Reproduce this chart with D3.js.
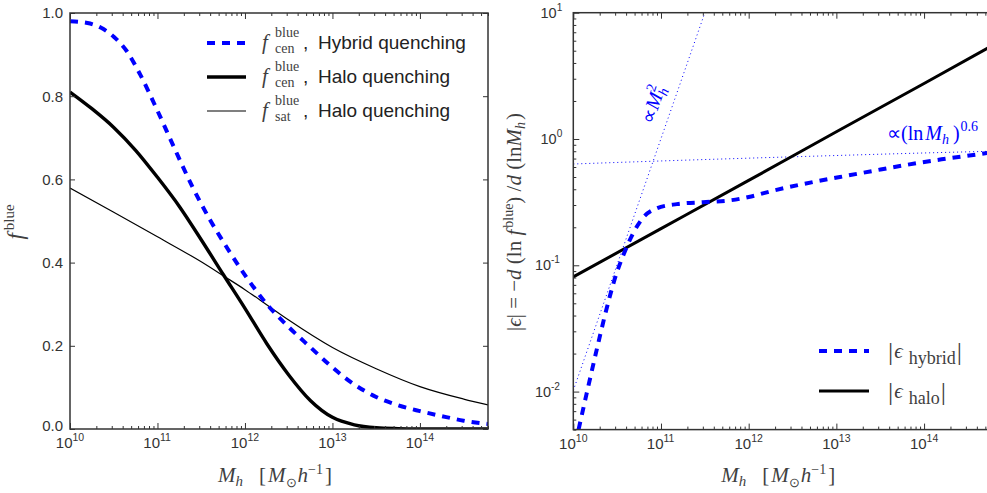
<!DOCTYPE html>
<html><head><meta charset="utf-8">
<script src="https://cdn.jsdelivr.net/npm/d3@7"></script>
<style>
body{margin:0;background:#fff;}
svg{display:block;}
</style></head><body>
<svg id="chart" width="987" height="493"></svg>
<script>
// ---------------- data ----------------
const massDomain = [1e10, 6e14];
const fTicks = [0, 0.2, 0.4, 0.6, 0.8, 1.0];
const massDecades = [10, 11, 12, 13, 14];
const epsDomain = [0.005, 10];
const epsDecades = [-2, -1, 0, 1];

// blue fraction of centrals, hybrid quenching
const logMassHybrid = [10.0,10.2,10.35,10.5,10.65,10.8,11.0,11.2,11.4,11.6,11.8,12.0,12.25,12.5,12.75,13.0,13.25,13.5,13.75,14.0,14.25,14.5,14.78];
const fCenHybrid    = [0.98,0.976,0.965,0.943,0.908,0.853,0.765,0.672,0.582,0.503,0.434,0.37,0.30,0.245,0.196,0.148,0.107,0.077,0.057,0.043,0.031,0.02,0.012];

// blue fraction of centrals, halo quenching
const logMassHaloCen = [10.0,10.25,10.5,10.75,11.0,11.25,11.5,11.75,12.0,12.25,12.5,12.75,13.0,13.25,13.5,13.75,14.0,14.5,14.78];
const fCenHalo       = [0.81,0.77,0.725,0.67,0.605,0.535,0.455,0.372,0.29,0.205,0.13,0.068,0.028,0.01,0.003,0.001,0.0003,0,0];

// blue fraction of satellites, halo quenching
const logMassHaloSat = [10.0,10.5,11.0,11.5,11.77,12.0,12.26,12.5,13.0,13.5,14.0,14.5,14.78];
const fSatHalo       = [0.579,0.521,0.462,0.402,0.366,0.335,0.297,0.262,0.196,0.145,0.102,0.072,0.058];

// logarithmic slopes |eps|
const logMassEpsHybrid = [10.06,10.15,10.27,10.36,10.49,10.57,10.68,10.8,10.95,11.18,11.48,11.79,12.0,12.28,12.6,13.04,13.4,13.8,14.2,14.64,14.78];
const epsHybrid        = [0.005,0.0095,0.0219,0.040,0.085,0.120,0.178,0.24,0.282,0.305,0.316,0.327,0.347,0.39,0.437,0.50,0.556,0.624,0.69,0.76,0.785];

const logMassEpsHalo = [10, 11, 12, 13, 14, 14.78];
const epsHalo        = [0.081, 0.195, 0.47, 1.14, 2.75, 5.5];

// reference scalings
const logMassSquare = [10, 11.5];
const epsSquare     = [0.0102, 10];
const logMassLnPow  = [10, 11, 12, 13, 14, 14.78];
const epsLnPow      = [0.634, 0.67, 0.705, 0.74, 0.775, 0.80];

// ---------------- layout ----------------
const svg = d3.select("#chart");
const AXIS = "#333";
const MATH = "#3f3f3f";
const SERIF = "'Liberation Serif','Times New Roman',serif";
const SANS = "'Liberation Sans',Arial,Helvetica,sans-serif";
const BLUE = "#0000ff";
const EPS = "\u03F5";

const PL = {x0: 70, x1: 488, y0: 13, y1: 429};
const PR = {x0: 573.3, x1: 992.3, y0: 12.7, y1: 429.6};

const xL = d3.scaleLog().domain(massDomain).range([PL.x0, PL.x1]);
const yL = d3.scaleLinear().domain([0, 1]).range([PL.y1, PL.y0]);
const xR = d3.scaleLog().domain(massDomain).range([PR.x0, PR.x1]);
const yR = d3.scaleLog().domain(epsDomain).range([PR.y1, PR.y0]);

const toPts = (lm, v) => lm.map((m, i) => [Math.pow(10, m), v[i]]);

function logTicks(domain, decades) {
  const major = [], minor = [];
  decades.forEach(k => {
    for (let j = 1; j <= 9; j++) {
      const v = j * Math.pow(10, k);
      if (v < domain[0] * 0.999 || v > domain[1] * 1.001) continue;
      (j === 1 ? major : minor).push(v);
    }
  });
  return {major, minor};
}

function styleAxis(g) {
  g.select(".domain").remove();
  g.selectAll(".tick line").attr("stroke", AXIS).attr("stroke-width", 1);
}

// "10" with a raised exponent; base and exponent are separate text runs
function powerLabel(x, y, exp, anchor, size) {
  const baseW = size * 1.112, expSize = size * 0.7, expW = expSize * 0.556 * String(exp).length;
  const left = anchor === "middle" ? x - (baseW + expW) / 2 : x - baseW - expW;
  svg.append("text").attr("x", left).attr("y", y).attr("font-family", SANS)
    .attr("font-size", size).attr("fill", AXIS).text("10");
  svg.append("text").attr("x", left + baseW).attr("y", y - 7).attr("font-family", SANS)
    .attr("font-size", expSize).attr("fill", AXIS).text(exp);
}

function drawLogX(P, x) {
  const t = logTicks(massDomain, massDecades);
  [[t.minor, 3], [t.major, 6]].forEach(([vals, len]) => {
    svg.append("g").attr("transform", `translate(0,${P.y1})`)
      .call(d3.axisBottom(x).tickValues(vals).tickSize(-len).tickFormat("")).call(styleAxis);
    svg.append("g").attr("transform", `translate(0,${P.y0})`)
      .call(d3.axisTop(x).tickValues(vals).tickSize(-len).tickFormat("")).call(styleAxis);
  });
  massDecades.forEach(k => powerLabel(x(Math.pow(10, k)), P.y1 + 19, k, "middle", 15));
}

function frame(P) {
  svg.append("rect").attr("x", P.x0).attr("y", P.y0)
    .attr("width", P.x1 - P.x0).attr("height", P.y1 - P.y0)
    .attr("fill", "none").attr("stroke", AXIS).attr("stroke-width", 1.5);
}

function clip(id, P) {
  svg.append("clipPath").attr("id", id).append("rect")
    .attr("x", P.x0).attr("y", P.y0).attr("width", P.x1 - P.x0).attr("height", P.y1 - P.y0);
}

// ---------------- left panel: blue fractions ----------------
clip("clipL", PL);
const lineL = d3.line().x(d => xL(d[0])).y(d => yL(d[1])).curve(d3.curveMonotoneX);
const gL = svg.append("g").attr("clip-path", "url(#clipL)");
gL.append("path").datum(toPts(logMassHaloSat, fSatHalo)).attr("d", lineL)
  .attr("fill", "none").attr("stroke", "#000").attr("stroke-width", 1.2);
gL.append("path").datum(toPts(logMassHaloCen, fCenHalo)).attr("d", lineL)
  .attr("fill", "none").attr("stroke", "#000").attr("stroke-width", 3.4);
gL.append("path").datum(toPts(logMassHybrid, fCenHybrid)).attr("d", lineL)
  .attr("fill", "none").attr("stroke", BLUE).attr("stroke-width", 4).attr("stroke-dasharray", "8,7");

svg.append("g").attr("transform", `translate(${PL.x0},0)`)
  .call(d3.axisLeft(yL).tickValues(fTicks).tickSize(-5).tickPadding(7).tickFormat(d3.format(".1f")))
  .call(styleAxis)
  .call(g => g.selectAll("text").attr("font-family", SANS).attr("font-size", 15).attr("fill", AXIS))
  .call(g => g.selectAll(".tick").filter(d => d === 0).select("text").attr("dy", "0.12em"));
svg.append("g").attr("transform", `translate(${PL.x1},0)`)
  .call(d3.axisRight(yL).tickValues(fTicks).tickSize(-5).tickFormat("")).call(styleAxis);
drawLogX(PL, xL);
frame(PL);

// legend
const legL = [
  {y: 43, dash: "8,7", color: BLUE, w: 4, sub: "cen", text: "Hybrid quenching"},
  {y: 77, dash: null, color: "#000", w: 3.4, sub: "cen", text: "Halo quenching"},
  {y: 111, dash: null, color: "#000", w: 1.2, sub: "sat", text: "Halo quenching"}
];
legL.forEach(d => {
  const l = svg.append("line").attr("x1", 207).attr("x2", 246).attr("y1", d.y).attr("y2", d.y)
    .attr("stroke", d.color).attr("stroke-width", d.w);
  if (d.dash) l.attr("stroke-dasharray", d.dash);
  const b = d.y + 6;
  svg.append("text").attr("x", 262).attr("y", b).attr("font-family", SERIF).attr("font-style", "italic")
    .attr("font-size", 21).attr("fill", MATH).text("f");
  svg.append("text").attr("x", 275).attr("y", b - 12).attr("font-family", SERIF)
    .attr("font-size", 14).attr("fill", MATH).text("blue");
  svg.append("text").attr("x", 275).attr("y", b + 4).attr("font-family", SERIF)
    .attr("font-size", 14).attr("fill", MATH).text(d.sub);
  svg.append("text").attr("x", 303).attr("y", b).attr("font-family", SANS)
    .attr("font-size", 19).attr("fill", "#222").text(",");
  svg.append("text").attr("x", 318).attr("y", b).attr("font-family", SANS)
    .attr("font-size", 19).attr("fill", "#222").text(d.text);
});

// y label
{
  const t = svg.append("text").attr("transform", "translate(23,222) rotate(-90)")
    .attr("text-anchor", "middle").attr("font-family", SERIF).attr("font-size", 23).attr("fill", MATH);
  t.append("tspan").attr("font-style", "italic").text("f");
  t.append("tspan").attr("font-size", 15).attr("dx", 3).attr("dy", -9).text("blue");
}

// x labels
function massLabel(x0, y0) {
  const t = svg.append("text").attr("x", x0).attr("y", y0).attr("font-family", SERIF)
    .attr("font-size", 21).attr("fill", MATH);
  t.append("tspan").attr("font-style", "italic").text("M");
  t.append("tspan").attr("font-style", "italic").attr("font-size", 15).attr("dy", 4).text("h");
  t.append("tspan").attr("dx", 16).attr("dy", -4).text("[");
  t.append("tspan").attr("font-style", "italic").attr("dx", 2).text("M");
  t.append("tspan").attr("font-size", 13).attr("dy", 5).text("\u2299");
  t.append("tspan").attr("font-style", "italic").attr("dx", 1).attr("dy", -5).text("h");
  t.append("tspan").attr("font-size", 14).attr("dy", -8).text("\u22121");
  t.append("tspan").attr("dx", 2).attr("dy", 8).text("]");
}
massLabel(218, 482);

// ---------------- right panel: logarithmic slopes ----------------
clip("clipR", PR);
const lineR = d3.line().x(d => xR(d[0])).y(d => yR(d[1])).curve(d3.curveMonotoneX);
const gR = svg.append("g").attr("clip-path", "url(#clipR)");
gR.append("path").datum(toPts(logMassSquare, epsSquare)).attr("d", lineR)
  .attr("fill", "none").attr("stroke", BLUE).attr("stroke-width", 1).attr("stroke-dasharray", "1,3");
gR.append("path").datum(toPts(logMassLnPow, epsLnPow)).attr("d", lineR)
  .attr("fill", "none").attr("stroke", BLUE).attr("stroke-width", 1).attr("stroke-dasharray", "1,3");
gR.append("path").datum(toPts(logMassEpsHalo, epsHalo)).attr("d", lineR)
  .attr("fill", "none").attr("stroke", "#000").attr("stroke-width", 3);
gR.append("path").datum(toPts(logMassEpsHybrid, epsHybrid)).attr("d", lineR)
  .attr("fill", "none").attr("stroke", BLUE).attr("stroke-width", 4).attr("stroke-dasharray", "8,7");

{
  const t = logTicks(epsDomain, [-3, -2, -1, 0, 1]);
  [[t.minor, 3], [t.major, 6]].forEach(([vals, len]) => {
    svg.append("g").attr("transform", `translate(${PR.x0},0)`)
      .call(d3.axisLeft(yR).tickValues(vals).tickSize(-len).tickFormat("")).call(styleAxis);
  });
  epsDecades.forEach(k => powerLabel(PR.x0 - 11, yR(Math.pow(10, k)) + 5, k < 0 ? "-" + (-k) : k, "end", 14.5));
}
drawLogX(PR, xR);
frame(PR);

// annotations for the reference scalings
{
  const t = svg.append("text").attr("transform", "translate(659,107) rotate(-70.8)")
    .attr("text-anchor", "middle").attr("font-family", SERIF).attr("font-size", 20).attr("fill", BLUE);
  t.append("tspan").text("\u221D");
  t.append("tspan").attr("font-style", "italic").attr("dx", 1).text("M");
  t.append("tspan").attr("font-style", "italic").attr("font-size", 14).attr("dy", 4).text("h");
  t.append("tspan").attr("font-size", 14).attr("dx", -7).attr("dy", -13).text("2");
}
{
  const t = svg.append("text").attr("x", 887).attr("y", 140).attr("font-family", SERIF)
    .attr("font-size", 20).attr("fill", BLUE);
  t.append("tspan").text("\u221D(ln");
  t.append("tspan").attr("font-style", "italic").attr("dx", 2).text("M");
  t.append("tspan").attr("font-style", "italic").attr("font-size", 14).attr("dy", 4).text("h");
  t.append("tspan").attr("dx", 4).attr("dy", -4).text(")");
  t.append("tspan").attr("font-size", 14).attr("dx", 1).attr("dy", -9).text("0.6");
}

// legend
[
  {y: 351, dash: "8,7", color: BLUE, w: 4, sub: "hybrid"},
  {y: 391, dash: null, color: "#000", w: 3, sub: "halo"}
].forEach(d => {
  const l = svg.append("line").attr("x1", 819).attr("x2", 869).attr("y1", d.y).attr("y2", d.y)
    .attr("stroke", d.color).attr("stroke-width", d.w);
  if (d.dash) l.attr("stroke-dasharray", d.dash);
  const t = svg.append("text").attr("x", 888).attr("y", d.y + 9).attr("font-family", SERIF)
    .attr("font-size", 26).attr("fill", MATH);
  t.append("tspan").text("|");
  t.append("tspan").attr("font-style", "italic").attr("font-size", 21).attr("dx", 1).attr("dy", -2).text(EPS);
  t.append("tspan").attr("font-size", 18).attr("dx", 6).attr("dy", 6).text(d.sub);
  t.append("tspan").attr("dx", 1).attr("dy", -4).text("|");
});

// y label
{
  const t = svg.append("text").attr("transform", "translate(521,222) rotate(-90)")
    .attr("text-anchor", "middle").attr("font-family", SERIF).attr("font-size", 21).attr("fill", MATH);
  t.append("tspan").text("|");
  t.append("tspan").attr("font-style", "italic").text(EPS);
  t.append("tspan").text("| = \u2212");
  t.append("tspan").attr("font-style", "italic").text("d");
  t.append("tspan").text(" (ln ");
  t.append("tspan").attr("font-style", "italic").text("f");
  t.append("tspan").attr("font-size", 14).attr("dx", 2).attr("dy", -8).text("blue");
  t.append("tspan").attr("dy", 8).text(") /");
  t.append("tspan").attr("font-style", "italic").text("d");
  t.append("tspan").text(" (ln");
  t.append("tspan").attr("font-style", "italic").text("M");
  t.append("tspan").attr("font-style", "italic").attr("font-size", 14).attr("dy", 4).text("h");
  t.append("tspan").attr("dx", 2).attr("dy", -4).text(")");
}
massLabel(721.3, 482);
</script>
</body></html>
